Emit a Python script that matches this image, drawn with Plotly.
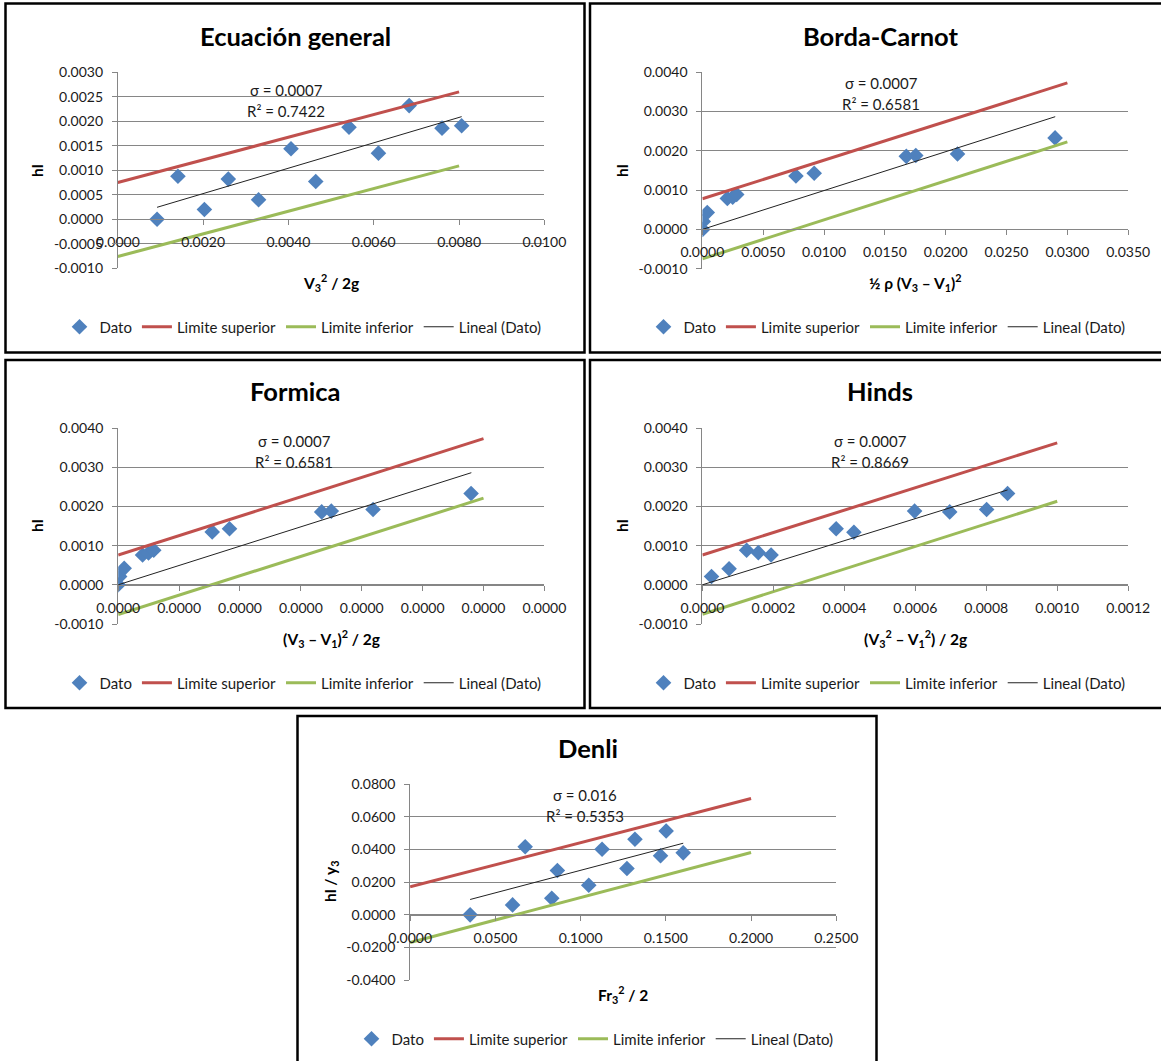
import plotly.graph_objects as go

W, H = 1161, 1061
FONT = "Lato, 'Open Sans', sans-serif"
BLUE = "#4f81bd"
RED = "#c0504d"
GREEN = "#9bbb59"
GRID = "#868686"
INK = "#1a1a1a"

# --- Ecuación general ---
eg_x = [0.00092, 0.00141, 0.00203, 0.00259, 0.00330, 0.00406, 0.00464, 0.00542, 0.00611, 0.00683, 0.00760, 0.00806]
eg_y = [0.0000, 0.00088, 0.00020, 0.00082, 0.00040, 0.00144, 0.00077, 0.00188, 0.00135, 0.00232, 0.00186, 0.00191]
eg_lim_x = [0.0, 0.008]
eg_sup = [0.00075, 0.00260]
eg_inf = [-0.00076, 0.00109]
eg_trend_x = [0.00092, 0.00806]
eg_trend_y = [0.000245, 0.002095]

# --- Borda-Carnot ---
bc_x = [0.00002, 0.00007, 0.00040, 0.00205, 0.00249, 0.00282, 0.00769, 0.00919, 0.01676, 0.01754, 0.02097, 0.02899]
bc_y = [0.0000, 0.00020, 0.00043, 0.00079, 0.00082, 0.00089, 0.00136, 0.00143, 0.00186, 0.00188, 0.00192, 0.00233]
bc_lim_x = [0.0, 0.030]
bc_sup = [0.00078, 0.00373]
bc_inf = [-0.00075, 0.00223]
bc_trend_x = [0.0, 0.0290]
bc_trend_y = [0.0, 0.00287]

# --- Formica ---
fo_x = [0.0, 0.000000012, 0.000000049, 0.000000200, 0.000000249, 0.000000292,
        0.000000772, 0.000000914, 0.000001671, 0.000001750, 0.000002093, 0.000002898]
fo_y = [0.0000, 0.00021, 0.00042, 0.00076, 0.00081, 0.00088, 0.00135, 0.00143, 0.00186, 0.00188, 0.00192, 0.00233]
fo_lim_x = [0.0, 0.000003]
fo_sup = [0.00076, 0.00373]
fo_inf = [-0.00076, 0.00221]
fo_trend_x = [0.0, 0.0000029]
fo_trend_y = [0.0, 0.00286]

# --- Hinds ---
hi_x = [0.0000257, 0.0000752, 0.0001246, 0.0001576, 0.0001936, 0.000377, 0.000427, 0.000598, 0.000697, 0.000801, 0.000860]
hi_y = [0.00021, 0.00041, 0.00088, 0.00082, 0.00076, 0.00143, 0.00134, 0.00188, 0.00186, 0.00192, 0.00233]
hi_lim_x = [0.0, 0.001]
hi_sup = [0.00076, 0.00362]
hi_inf = [-0.00075, 0.00213]
hi_trend_x = [0.0, 0.00086]
hi_trend_y = [0.0, 0.00242]

# --- Denli ---
de_x = [0.0352, 0.0601, 0.0675, 0.0831, 0.0864, 0.1048, 0.1126, 0.1272, 0.1319, 0.1469, 0.1502, 0.1602]
de_y = [0.0000, 0.0061, 0.0416, 0.0102, 0.0271, 0.0181, 0.0401, 0.0283, 0.0462, 0.0361, 0.0513, 0.0379]
de_lim_x = [0.0, 0.2]
de_sup = [0.0171, 0.0711]
de_inf = [-0.0169, 0.0381]
de_trend_x = [0.0352, 0.1602]
de_trend_y = [0.0094, 0.0438]

panel_titles = ["Ecuación general", "Borda-Carnot", "Formica", "Hinds", "Denli"]
x_titles = [
    "V<sub>3</sub><sup>2</sup> / 2g",
    "½ ρ (V<sub>3</sub> – V<sub>1</sub>)<sup>2</sup>",
    "(V<sub>3</sub> – V<sub>1</sub>)<sup>2</sup> / 2g",
    "(V<sub>3</sub><sup>2</sup> – V<sub>1</sub><sup>2</sup>) / 2g",
    "Fr<sub>3</sub><sup>2</sup> / 2",
]
y_titles = ["hl", "hl", "hl", "hl", "hl / y<sub>3</sub>"]
sigma_labels = ["σ = 0.0007", "σ = 0.0007", "σ = 0.0007", "σ = 0.0007", "σ = 0.016"]
r2_labels = ["R² = 0.7422", "R² = 0.6581", "R² = 0.6581", "R² = 0.8669", "R² = 0.5353"]

series = [
    (eg_x, eg_y, eg_lim_x, eg_sup, eg_inf, eg_trend_x, eg_trend_y),
    (bc_x, bc_y, bc_lim_x, bc_sup, bc_inf, bc_trend_x, bc_trend_y),
    (fo_x, fo_y, fo_lim_x, fo_sup, fo_inf, fo_trend_x, fo_trend_y),
    (hi_x, hi_y, hi_lim_x, hi_sup, hi_inf, hi_trend_x, hi_trend_y),
    (de_x, de_y, de_lim_x, de_sup, de_inf, de_trend_x, de_trend_y),
]

# layout in pixels: border box, plot box, axis ranges, ticks, text spots
PANELS = [
    dict(box=(5.5, 3.5, 584.5, 352.5), plot=(117.8, 72.3, 544.4, 268.3),
         xr=(0, 0.01), xd=0.002, yr=(-0.001, 0.003), yd=0.0005,
         title=(295, 36), note=(286, 90), ytl=(37, 171), leg=(303, 327)),
    dict(box=(590, 3.5, 1164, 352.5), plot=(702.4, 72.3, 1128.2, 268.7),
         xr=(0, 0.035), xd=0.005, yr=(-0.001, 0.004), yd=0.001,
         title=(880, 36), note=(881, 83), ytl=(622, 171), leg=(887, 327)),
    dict(box=(5.5, 360, 584.5, 708), plot=(118.2, 428, 544.4, 624),
         xr=(0, 0.0000035), xd=0.0000005, yr=(-0.001, 0.004), yd=0.001,
         title=(295, 391), note=(294, 441), ytl=(37, 526), leg=(303, 683)),
    dict(box=(590, 360, 1164, 708), plot=(702.4, 428, 1128.2, 624),
         xr=(0, 0.0012), xd=0.0002, yr=(-0.001, 0.004), yd=0.001,
         title=(880, 391), note=(870, 441), ytl=(622, 526), leg=(887, 683)),
    dict(box=(297.5, 716, 876.5, 1064), plot=(410.1, 784, 836.3, 980.3),
         xr=(0, 0.25), xd=0.05, yr=(-0.04, 0.08), yd=0.02,
         title=(588, 748), note=(585, 795), ytl=(331, 882), leg=(595, 1039)),
]


def fx(px):
    return px / W


def fy(py):
    return 1 - py / H


def ticks(lo, hi, step):
    n = int(round((hi - lo) / step))
    return [lo + k * step for k in range(n + 1)]


fig = go.Figure()
annotations = []
shapes = []

for i, (p, s) in enumerate(zip(PANELS, series)):
    n = i + 1
    xa = "x" if n == 1 else f"x{n}"
    ya = "y" if n == 1 else f"y{n}"
    leg = "legend" if n == 1 else f"legend{n}"
    dx, dy, lx, sup, inf, tx, ty = s

    fig.add_trace(go.Scatter(
        x=dx, y=dy, mode="markers", name="Dato", xaxis=xa, yaxis=ya, legend=leg,
        marker=dict(symbol="diamond", size=12, color=BLUE),
    ))
    fig.add_trace(go.Scatter(
        x=lx, y=sup, mode="lines", name="Limite superior", xaxis=xa, yaxis=ya,
        legend=leg, line=dict(color=RED, width=3),
    ))
    fig.add_trace(go.Scatter(
        x=lx, y=inf, mode="lines", name="Limite inferior", xaxis=xa, yaxis=ya,
        legend=leg, line=dict(color=GREEN, width=3),
    ))
    fig.add_trace(go.Scatter(
        x=tx, y=ty, mode="lines", name="Lineal (Dato)", xaxis=xa, yaxis=ya,
        legend=leg, line=dict(color="#222222", width=1),
    ))

    x0, y0, x1, y1 = p["plot"]
    ymin, ymax = p["yr"]
    zero_px = y0 + ymax / (ymax - ymin) * (y1 - y0)
    yt = ticks(ymin, ymax, p["yd"])
    fmt = "{:.4f}"

    fig.update_layout(**{
        ("xaxis" if n == 1 else f"xaxis{n}"): dict(
            domain=[fx(x0), fx(x1)], range=list(p["xr"]), anchor="free",
            position=fy(zero_px), dtick=p["xd"], tick0=0, tickformat=".4f",
            showgrid=False, zeroline=False, showline=True, linecolor=GRID,
            linewidth=1, ticks="outside", ticklen=5, tickcolor=GRID,
            ticklabelstandoff=5, automargin=False,
            tickfont=dict(family=FONT, size=14, color=INK),
        ),
        ("yaxis" if n == 1 else f"yaxis{n}"): dict(
            domain=[fy(y1), fy(y0)], range=list(p["yr"]), anchor=xa,
            tickvals=yt, ticktext=[fmt.format(v + 0.0) for v in yt],
            showgrid=True, gridcolor=GRID, gridwidth=1, zeroline=False,
            showline=True, linecolor=GRID, linewidth=1, ticks="outside",
            ticklen=5, tickcolor=GRID, ticklabelstandoff=6, automargin=False,
            tickfont=dict(family=FONT, size=14, color=INK),
        ),
        leg: dict(
            orientation="h", x=fx(p["leg"][0]), y=fy(p["leg"][1]),
            xanchor="center", yanchor="middle", bgcolor="rgba(0,0,0,0)",
            font=dict(family=FONT, size=15, color=INK), traceorder="normal",
            itemwidth=30, tracegroupgap=0,
        ),
    })

    annotations += [
        dict(text=f"<b>{panel_titles[i]}</b>", x=fx(p["title"][0]), y=fy(p["title"][1]),
             font=dict(family=FONT, size=25.5, color="#000000")),
        dict(text=sigma_labels[i], x=fx(p["note"][0]), y=fy(p["note"][1]),
             font=dict(family=FONT, size=15, color=INK)),
        dict(text=r2_labels[i], x=fx(p["note"][0]), y=fy(p["note"][1] + 20.5),
             font=dict(family=FONT, size=15, color=INK)),
        dict(text=f"<b>{x_titles[i]}</b>", x=fx((x0 + x1) / 2), y=fy(y1 + 14),
             font=dict(family=FONT, size=15.5, color="#000000")),
        dict(text=f"<b>{y_titles[i]}</b>", x=fx(p["ytl"][0]), y=fy(p["ytl"][1]),
             textangle=-90, font=dict(family=FONT, size=15.5, color="#000000")),
    ]

    bx0, by0, bx1, by1 = p["box"]
    shapes.append(dict(type="rect", xref="paper", yref="paper",
                       x0=fx(bx0), x1=fx(bx1), y0=fy(by1), y1=fy(by0),
                       line=dict(color="#000000", width=2.5)))

for a in annotations:
    a.update(xref="paper", yref="paper", showarrow=False,
             xanchor="center", yanchor="middle")

fig.update_layout(
    width=W, height=H, autosize=False,
    margin=dict(l=0, r=0, t=0, b=0, pad=0, autoexpand=False),
    paper_bgcolor="#ffffff", plot_bgcolor="#ffffff",
    showlegend=True, annotations=annotations, shapes=shapes,
    font=dict(family=FONT, color=INK),
)

fig.write_html("out.html", config={"displayModeBar": False},
               post_script="document.body.style.margin='0';")
